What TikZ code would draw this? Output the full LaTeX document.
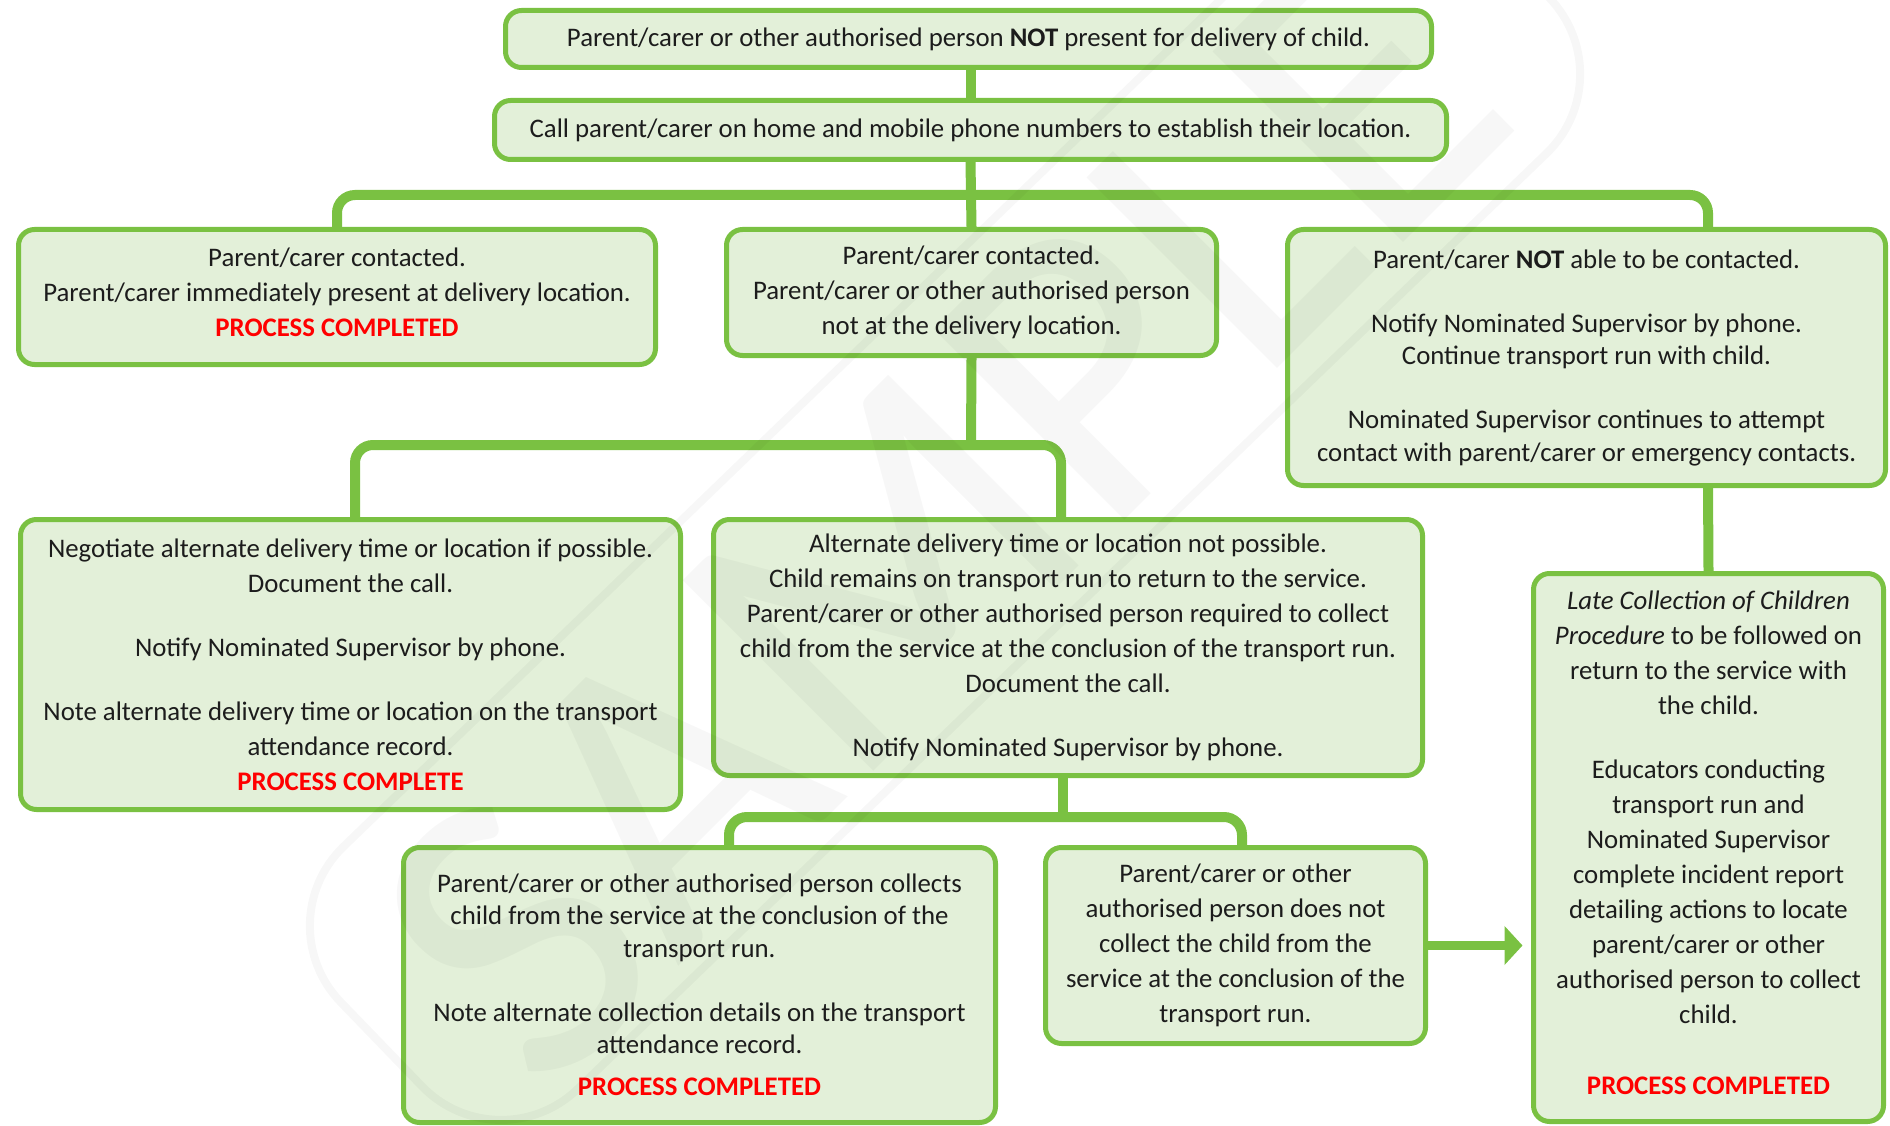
\documentclass[tikz,border=0pt]{standalone}
\usepackage{fontspec}
\setmainfont{Carlito}
\usetikzlibrary{arrows.meta}
\definecolor{gborder}{RGB}{122,193,66}
\definecolor{gfill}{RGB}{227,240,217}
\definecolor{ptxt}{RGB}{28,28,28}
\definecolor{pred}{RGB}{255,0,0}
\newcommand{\pdone}[1]{{\color{pred}\bfseries #1}}
\begin{document}
\begin{tikzpicture}[x=1pt,y=-1pt,
  box/.style={draw=gborder, fill=gfill, line width=5pt, rounded corners=16pt,
    inner sep=0pt, align=center, text=ptxt, font=\fontsize{26.8}{35}\selectfont},
  tightbox/.style={box, font=\fontsize{26.8}{32.5}\selectfont},
  link/.style={draw=gborder, line width=10pt, rounded corners=18pt},
  wmark/.style={draw=black, draw opacity=0.03, text=black, text opacity=0.03}
]
\useasboundingbox (0,0) rectangle (1890,1126);
\fill[white] (0,0) rectangle (1890,1126);

% boxes
\node[box, minimum width=926pt, minimum height=57pt] (b1) at (968.5,39)
  {Parent/carer or other authorised person \textbf{NOT} present for delivery of child.};
\node[box, minimum width=952pt, minimum height=59pt] (b2) at (970.5,130)
  {Call parent/carer on home and mobile phone numbers to establish their location.};
\node[box, minimum width=637pt, minimum height=135pt] (b3) at (337,297)
  {Parent/carer contacted.\\Parent/carer immediately present at delivery location.\\\pdone{PROCESS COMPLETED}\\[-25pt]};
\node[box, minimum width=490pt, minimum height=126pt] (b4) at (971.5,292.5)
  {Parent/carer contacted.\\Parent/carer or other authorised person\\not at the delivery location.};
\node[tightbox, minimum width=598pt, minimum height=256pt] (b5) at (1586.5,357.5)
  {Parent/carer \textbf{NOT} able to be contacted.\\[31.5pt]
   Notify Nominated Supervisor by phone.\\Continue transport run with child.\\[31.5pt]
   Nominated Supervisor continues to attempt\\contact with parent/carer or emergency contacts.};
\node[box, minimum width=660pt, minimum height=290pt] (b6) at (350.5,664.5)
  {Negotiate alternate delivery time or location if possible.\\Document the call.\\[29pt]
   Notify Nominated Supervisor by phone.\\[29pt]
   Note alternate delivery time or location on the transport\\attendance record.\\\pdone{PROCESS COMPLETE}};
\node[box, minimum width=709pt, minimum height=256pt] (b7) at (1068,647.5)
  {Alternate delivery time or location not possible.\\Child remains on transport run to return to the service.\\
   Parent/carer or other authorised person required to collect\\child from the service at the conclusion of the transport run.\\
   Document the call.\\[29pt]Notify Nominated Supervisor by phone.};
\node[tightbox, minimum width=592pt, minimum height=275pt] (b8) at (699.5,985)
  {Parent/carer or other authorised person collects\\child from the service at the conclusion of the\\transport run.\\[31.5pt]
   Note alternate collection details on the transport\\attendance record.\\[9.5pt]\pdone{PROCESS COMPLETED}};
\node[box, minimum width=380pt, minimum height=196pt] (b9) at (1235.5,945.5)
  {Parent/carer or other\\authorised person does not\\collect the child from the\\service at the conclusion of the\\transport run.};
\node[box, minimum width=350pt, minimum height=548pt] (b10) at (1708.5,847.5)
  {\textit{Late Collection of Children}\\\textit{Procedure} to be followed on\\return to the service with\\the child.\\[29pt]
   Educators conducting\\transport run and\\Nominated Supervisor\\complete incident report\\detailing actions to locate\\parent/carer or other\\authorised person to collect\\child.\\[36pt]\pdone{PROCESS COMPLETED}\\[-25pt]};

% junction and stem coordinates
\coordinate (j1) at (971,195);
\coordinate (t5) at (1708,229.5);
\coordinate (j2) at (971,445);
\coordinate (t6) at (355,519.5);
\coordinate (t7) at (1061,519.5);
\coordinate (s7) at (1063,775.5);
\coordinate (j3) at (1063,817);
\coordinate (t8) at (729,847.5);
\coordinate (t9) at (1242,847.5);
\coordinate (s5) at (1708,485.5);

% connectors
\draw[link] (b2.north) -- (b2.north |- b1.south);
\draw[link] (b2.south) -- (b4.north);
\draw[link] (b3.north) |- (j1) -| (t5);
\draw[link] (b4.south) -- (j2);
\draw[link] (t6) |- (j2) -| (t7);
\draw[link] (s7) -- (j3);
\draw[link] (t8) |- (j3) -| (t9);
\draw[link] (s5) -- (b10.north);
\draw[draw=gborder, fill=gborder, line width=9pt, shorten >=8.5pt,
  -{Triangle[length=18pt,width=38pt]}] (b9.east) -- (b9.east -| b10.west);

% faint watermark
\node[wmark, draw=none, rotate=45, font=\fontsize{420}{420}\selectfont] (wmtext) at (940,515) {SAMPLE};
\node[wmark, rotate=44, minimum width=1567pt, minimum height=337pt,
  rounded corners=110pt, line width=8pt] (wmframe) at (945,500) {};
\end{tikzpicture}
\end{document}
